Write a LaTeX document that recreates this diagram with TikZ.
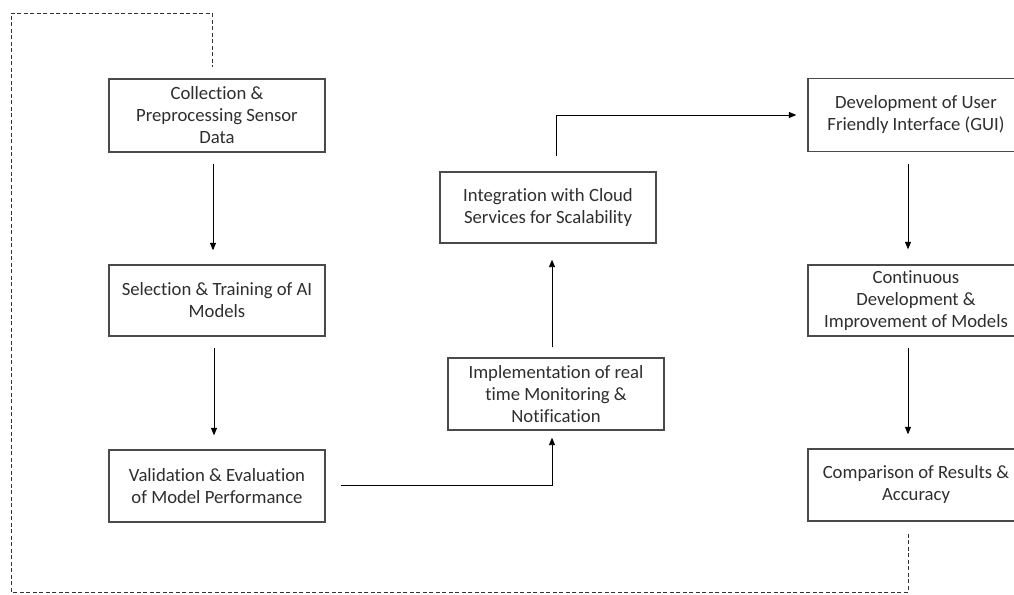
\documentclass[tikz,border=0pt]{standalone}
\usepackage{fontspec}
\setmainfont{Carlito}[Ligatures={NoCommon}]
\usetikzlibrary{arrows.meta,calc}
\definecolor{boxline}{HTML}{4A4A4A}
\definecolor{txt}{HTML}{2E2E2E}
\tikzset{
  stagebox/.style={draw=boxline, line width=1.3pt, minimum width=216pt,
    inner sep=0pt, align=center, text=txt,
    font=\fontsize{18.7}{22}\selectfont},
  flow/.style={draw=black, line width=0.9pt,
    -{Triangle[length=7.5pt,width=6pt]}},
  loopback/.style={draw=black!80, line width=0.9pt, dash pattern=on 4pt off 2.5pt}
}
\begin{document}
\begin{tikzpicture}[x=1pt,y=-1pt]
\useasboundingbox (0,0) rectangle (1014,594);
\clip (0,0) rectangle (1014,594);

% left column
\node[stagebox, minimum height=73pt] (col) at (217,115.5)
  {Collection \&\\Preprocessing Sensor\\Data};
\node[stagebox, minimum height=71pt] (sel) at (217,300.5)
  {Selection \& Training of AI\\Models};
\node[stagebox, minimum height=72pt] (val) at (217,486)
  {Validation \& Evaluation\\of Model Performance};

% middle column
\node[stagebox, minimum height=71pt] (int) at (548,207.5)
  {Integration with Cloud\\Services for Scalability};
\node[stagebox, minimum height=72pt] (imp) at (556,394)
  {Implementation of real\\time Monitoring \&\\Notification};

% right column
\node[stagebox, minimum height=73pt] (dev) at (916,115)
  {Development of User\\Friendly Interface (GUI)};
\node[stagebox, minimum height=71pt] (con) at (916,300.5)
  {Continuous\\Development \&\\Improvement of Models};
\node[stagebox, minimum height=72pt] (cmp) at (916,485)
  {Comparison of Results \&\\Accuracy};

% connectors (anchor shifts are in page directions: positive yshift is up)
\draw[flow, shorten <=11pt, shorten >=14pt]
  ([xshift=-4pt]col.south) -- ([xshift=-4pt]sel.north);
\draw[flow, shorten <=11pt, shorten >=14pt]
  ([xshift=-3pt]sel.south) -- ([xshift=-3pt]val.north);
\draw[flow] ([xshift=15pt,yshift=1pt]val.east) -| ([xshift=-4pt,yshift=-7pt]imp.south);
\draw[flow, shorten <=10pt, shorten >=16pt]
  ([xshift=-4pt]imp.north) -- ([xshift=4pt]int.south);
\draw[flow] ([xshift=8pt,yshift=15pt]int.north) |- ([xshift=-11pt]dev.west);
\draw[flow, shorten <=12pt, shorten >=15pt]
  ([xshift=-8pt]dev.south) -- ([xshift=-8pt]con.north);
\draw[flow, shorten <=11pt, shorten >=14pt]
  ([xshift=-8pt]con.south) -- ([xshift=-8pt]cmp.north);

% dashed feedback loop
\coordinate (lb) at (11,592);
\coordinate (lt) at (11,13);
\draw[loopback] ([xshift=-8pt,yshift=-12pt]cmp.south) -- ([xshift=-8pt]cmp.south |- lb)
  -- (lb) -- (lt) -- ([xshift=-5pt]col.north |- lt) -- ([xshift=-5pt,yshift=11pt]col.north);
\end{tikzpicture}
\end{document}
